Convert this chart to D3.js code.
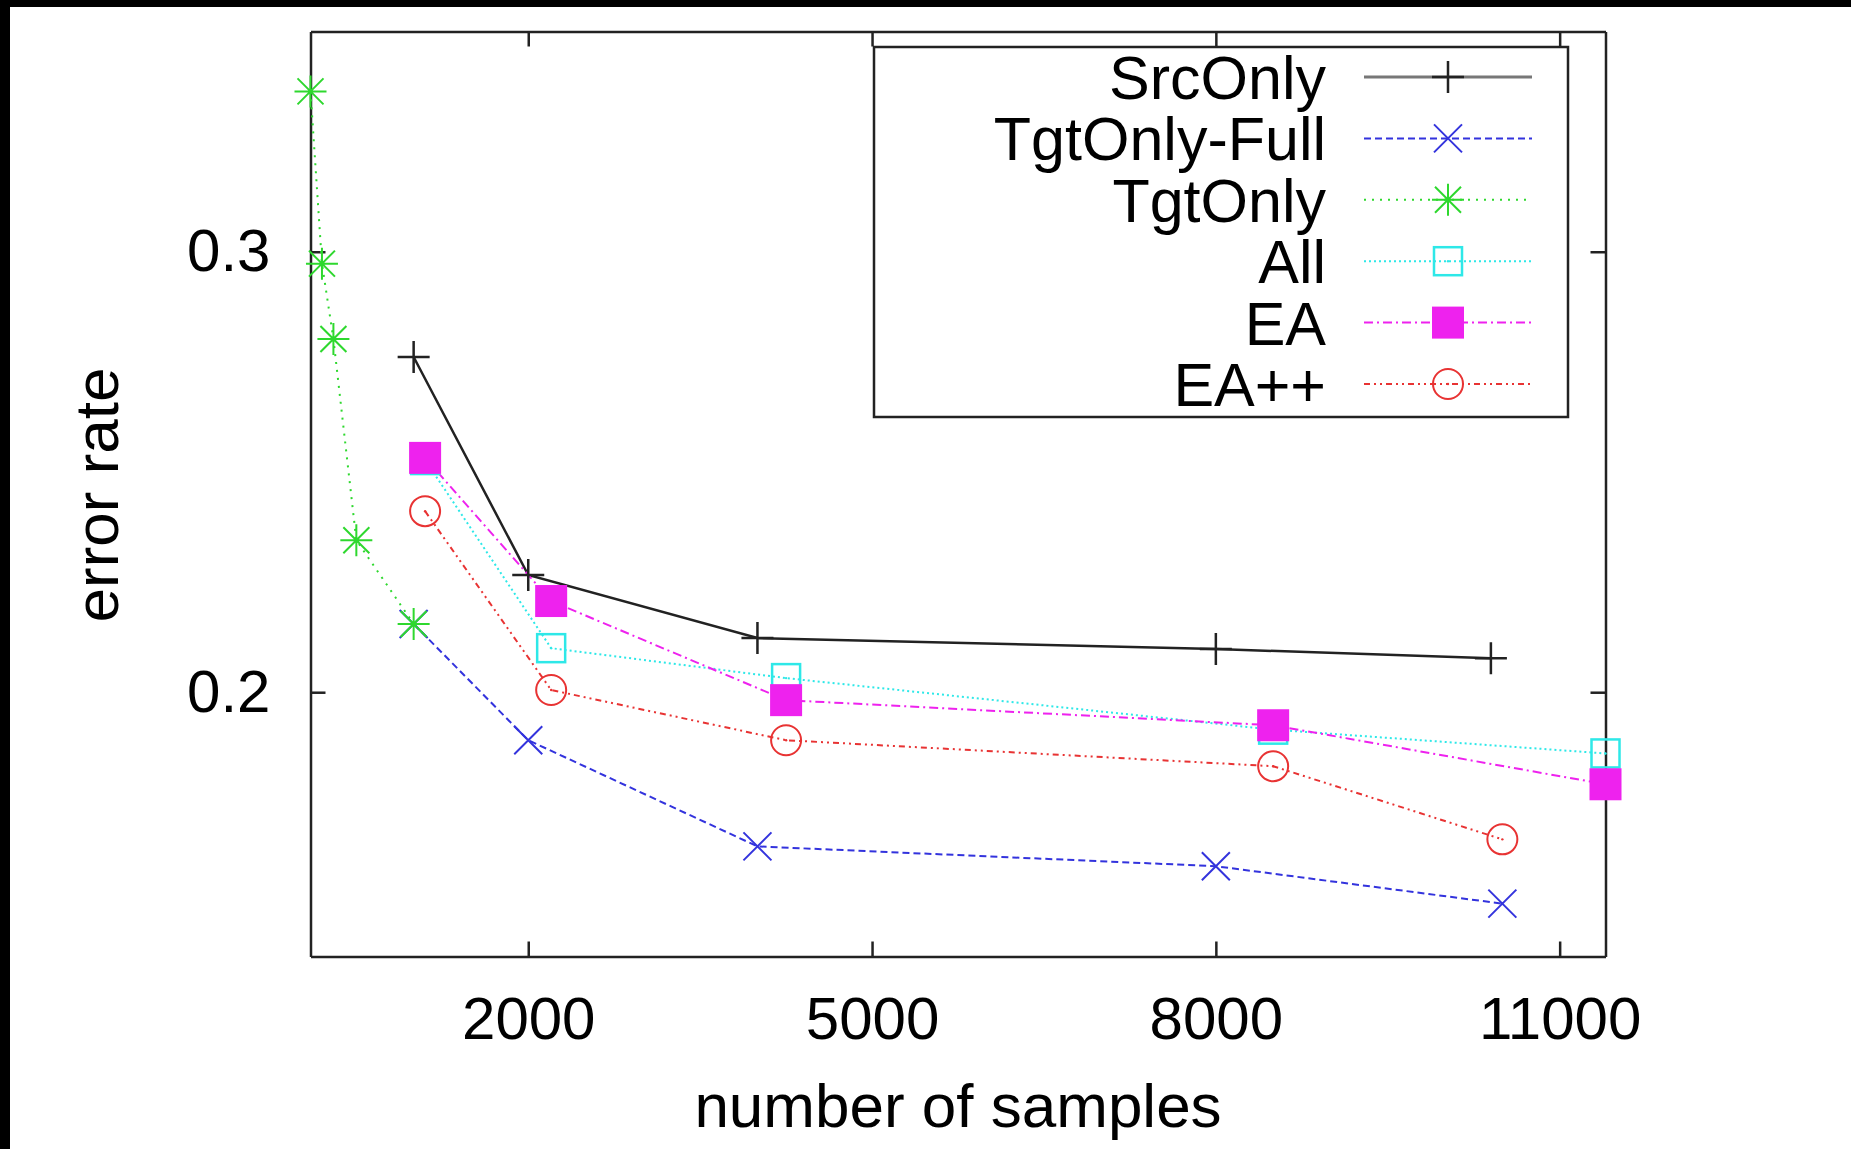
<!DOCTYPE html>
<html>
<head>
<meta charset="utf-8">
<script src="https://cdn.jsdelivr.net/npm/d3@7"></script>
<style>
  html, body { margin: 0; padding: 0; background: #fff; }
  svg { display: block; }
  text { font-family: "Liberation Sans", Arial, sans-serif; fill: #000; }
</style>
</head>
<body>
<svg width="1851" height="1149"></svg>
<script>
// series values
var seriesNames = ["SrcOnly", "TgtOnly-Full", "TgtOnly", "All", "EA", "EA++"];

var srcOnlyX = [1000, 2000, 4000, 8000, 10400];
var srcOnlyY = [0.2761, 0.2266, 0.2123, 0.2098, 0.2077];

var tgtFullX = [1000, 2000, 4000, 8000, 10500];
var tgtFullY = [0.2155, 0.1891, 0.1650, 0.1605, 0.1520];

var tgtOnlyX = [100, 200, 300, 500, 1000];
var tgtOnlyY = [0.3364, 0.2973, 0.2802, 0.2345, 0.2155];

var allX = [1100, 2200, 4250, 8500, 11400];
var allY = [0.2527, 0.2100, 0.2032, 0.1915, 0.1861];

var eaX = [1100, 2200, 4250, 8500, 11400];
var eaY = [0.2532, 0.2207, 0.1982, 0.1925, 0.1791];

var eappX = [1100, 2200, 4250, 8500, 10500];
var eappY = [0.2411, 0.2005, 0.1891, 0.1832, 0.1666];

var xTicks = [2000, 5000, 8000, 11000];
var yTicks = [0.2, 0.3];

var svg = d3.select("svg");

// black scan borders of the original picture
svg.append("rect").attr("x", 0).attr("y", 0).attr("width", 1851).attr("height", 7).attr("fill", "#000");
svg.append("rect").attr("x", 0).attr("y", 0).attr("width", 10).attr("height", 1149).attr("fill", "#000");

var pLeft = 310.5, pRight = 1605.5, pTop = 31.5, pBottom = 956.5;

var x = d3.scaleLinear().domain([100, 11400]).range([pLeft, pRight]);
var y = d3.scaleLinear().domain([0.14, 0.35]).range([pBottom, pTop]);

var series = [
  { name: seriesNames[0], xs: srcOnlyX, ys: srcOnlyY, color: "#222", width: 2.5, dash: null, mark: "plus" },
  { name: seriesNames[1], xs: tgtFullX, ys: tgtFullY, color: "#3333dd", width: 2, dash: "7,4", mark: "cross" },
  { name: seriesNames[2], xs: tgtOnlyX, ys: tgtOnlyY, color: "#2ed82e", width: 2, dash: "2,6", mark: "star" },
  { name: seriesNames[3], xs: allX, ys: allY, color: "#2ee8e8", width: 2, dash: "2,3", mark: "box" },
  { name: seriesNames[4], xs: eaX, ys: eaY, color: "#ee22ee", width: 2, dash: "9,4,2,4", mark: "boxfill" },
  { name: seriesNames[5], xs: eappX, ys: eappY, color: "#e83333", width: 2, dash: "6,4,2,4,2,4", mark: "circle" }
];

var line = d3.line().x(function(d) { return x(d[0]); }).y(function(d) { return y(d[1]); });

function drawMark(g, type, color, cx, cy) {
  if (type == "plus") {
    g.append("path").attr("d", "M" + (cx - 16) + "," + cy + "H" + (cx + 16) + "M" + cx + "," + (cy - 16) + "V" + (cy + 16))
      .attr("stroke", color).attr("stroke-width", 2.5).attr("fill", "none");
  } else if (type == "cross") {
    g.append("path").attr("d", "M" + (cx - 14) + "," + (cy - 14) + "L" + (cx + 14) + "," + (cy + 14) + "M" + (cx - 14) + "," + (cy + 14) + "L" + (cx + 14) + "," + (cy - 14))
      .attr("stroke", color).attr("stroke-width", 2).attr("fill", "none");
  } else if (type == "star") {
    g.append("path").attr("d", "M" + (cx - 16) + "," + cy + "H" + (cx + 16) + "M" + cx + "," + (cy - 16) + "V" + (cy + 16)
      + "M" + (cx - 13) + "," + (cy - 13) + "L" + (cx + 13) + "," + (cy + 13) + "M" + (cx - 13) + "," + (cy + 13) + "L" + (cx + 13) + "," + (cy - 13))
      .attr("stroke", color).attr("stroke-width", 2).attr("fill", "none");
  } else if (type == "box") {
    g.append("rect").attr("x", cx - 14).attr("y", cy - 14).attr("width", 28).attr("height", 28)
      .attr("stroke", color).attr("stroke-width", 2.5).attr("fill", "none");
    g.append("circle").attr("cx", cx).attr("cy", cy).attr("r", 1.2).attr("fill", color);
  } else if (type == "boxfill") {
    g.append("rect").attr("x", cx - 16).attr("y", cy - 16).attr("width", 32).attr("height", 32)
      .attr("fill", color);
  } else if (type == "circle") {
    g.append("circle").attr("cx", cx).attr("cy", cy).attr("r", 15)
      .attr("stroke", color).attr("stroke-width", 2).attr("fill", "none");
    g.append("circle").attr("cx", cx).attr("cy", cy).attr("r", 1.2).attr("fill", color);
  }
}

// axes: ticks point inward, labels only on bottom and left
var axisStyle = function(g) {
  g.selectAll(".domain").attr("stroke", "#222").attr("stroke-width", 2.5);
  g.selectAll(".tick line").attr("stroke", "#222").attr("stroke-width", 2.5);
  g.selectAll("text").attr("font-family", "Liberation Sans, Arial, sans-serif").attr("font-size", 60).attr("fill", "#000");
};

svg.append("g").attr("transform", "translate(0," + pBottom + ")")
  .call(d3.axisBottom(x).tickValues(xTicks).tickSizeInner(-15).tickSizeOuter(0).tickPadding(40).tickFormat(d3.format("d")))
  .call(axisStyle);
svg.append("g").attr("transform", "translate(0," + pTop + ")")
  .call(d3.axisTop(x).tickValues(xTicks).tickSizeInner(-15).tickSizeOuter(0).tickFormat(""))
  .call(axisStyle);
svg.append("g").attr("transform", "translate(" + pLeft + ",0)")
  .call(d3.axisLeft(y).tickValues(yTicks).tickSizeInner(-15).tickSizeOuter(0).tickPadding(40).tickFormat(d3.format(".1f")))
  .call(axisStyle);
svg.append("g").attr("transform", "translate(" + pRight + ",0)")
  .call(d3.axisRight(y).tickValues(yTicks).tickSizeInner(-15).tickSizeOuter(0).tickFormat(""))
  .call(axisStyle);

// lines then markers
var plot = svg.append("g");
series.forEach(function(s) {
  var pts = s.xs.map(function(v, i) { return [v, s.ys[i]]; });
  plot.append("path").datum(pts).attr("d", line)
    .attr("fill", "none").attr("stroke", s.color).attr("stroke-width", s.width)
    .attr("stroke-dasharray", s.dash);
});
series.forEach(function(s) {
  var g = plot.append("g");
  s.xs.forEach(function(v, i) { drawMark(g, s.mark, s.color, x(v), y(s.ys[i])); });
});

// axis titles
svg.append("text").attr("x", (pLeft + pRight) / 2).attr("y", 1127)
  .attr("text-anchor", "middle").attr("font-size", 62).text("number of samples");
svg.append("text").attr("transform", "translate(118,495) rotate(-90)")
  .attr("text-anchor", "middle").attr("font-size", 62).text("error rate");

// legend
var legend = svg.append("g");
legend.append("rect").attr("x", 874).attr("y", 47).attr("width", 694).attr("height", 370)
  .attr("fill", "#fff").attr("stroke", "#222").attr("stroke-width", 2.5);
series.forEach(function(s, i) {
  var ly = 77 + i * 61.4;
  legend.append("text").attr("x", 1326).attr("y", ly).attr("dy", "0.36em")
    .attr("text-anchor", "end").attr("font-size", 61).text(s.name);
  legend.append("line").attr("x1", 1364).attr("x2", 1532).attr("y1", ly).attr("y2", ly)
    .attr("stroke", s.mark == "plus" ? "#777" : s.color).attr("stroke-width", s.mark == "plus" ? 3 : 2)
    .attr("stroke-dasharray", s.dash);
  drawMark(legend, s.mark, s.color, 1448, ly);
});
</script>
</body>
</html>
